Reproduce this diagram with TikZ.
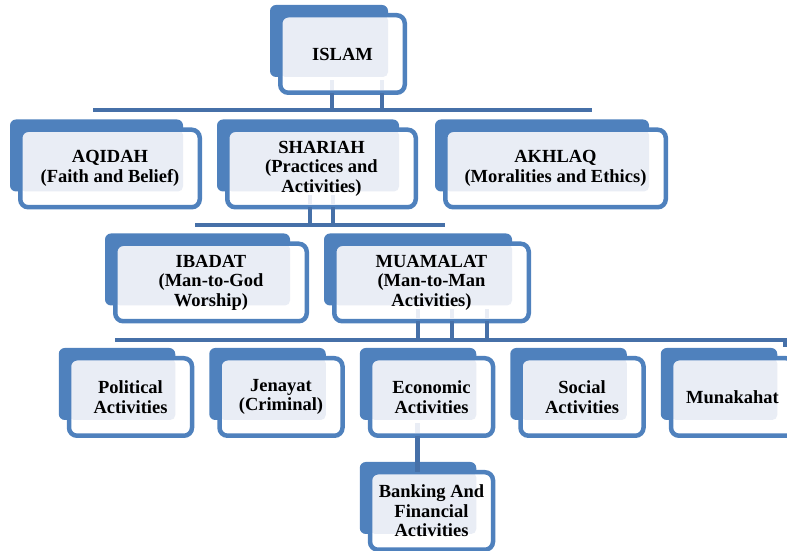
\documentclass[tikz,border=0pt]{standalone}
\usepackage{fontspec}
\setmainfont{Liberation Serif}
\usetikzlibrary{positioning, backgrounds, calc}
\definecolor{boxblue}{RGB}{79,129,189}
\definecolor{linkblue}{RGB}{70,112,168}
\definecolor{paleblue}{RGB}{233,237,245}

\begin{document}
\begin{tikzpicture}[
    x=1pt, y=1pt,
    card/.style={rectangle, rounded corners=8pt, draw=boxblue, line width=4.5pt, fill=white,
        minimum width=123pt, minimum height=77.5pt, inner sep=0pt, outer sep=0pt, align=center,
        font=\fontsize{18.5}{19.5}\selectfont\bfseries,
        path picture={\fill[paleblue, rounded corners=5pt] (path picture bounding box.north west)
            rectangle ($(path picture bounding box.south east)+(-16.75pt,15.75pt)$);}},
    link/.style={linkblue, line width=4.5pt},
    ghost/.style={paleblue, line width=4.5pt}
]
\useasboundingbox (0,0) rectangle (787,551);

% Root
\node[card, minimum width=124.5pt] (islam) at (342.5,497) {ISLAM};

% Three pillars
\node[card, minimum width=179.5pt] (aqidah) at (110,382.5) {AQIDAH\\(Faith and Belief)};
\node[card, minimum width=188.5pt, right=27.5pt of aqidah] (shariah) {SHARIAH\\(Practices and\\Activities)};
\node[card, minimum width=220.5pt, right=29.5pt of shariah] (akhlaq) {AKHLAQ\\(Moralities and Ethics)};

% Shariah branches
\node[card, minimum width=191.5pt] (ibadat) at (211,268.5) {IBADAT\\(Man-to-God\\Worship)};
\node[card, minimum width=194.5pt, right=27.5pt of ibadat] (muamalat) {MUAMALAT\\(Man-to-Man\\Activities)};

% Muamalat branches
\node[card] (political) at (130.5,154) {Political\\Activities};
\node[card, right=27.5pt of political] (jenayat) {Jenayat\\(Criminal)};
\node[card, right=27.5pt of jenayat] (economic) {Economic\\Activities};
\node[card, right=27.5pt of economic] (social) {Social\\Activities};
\node[card, right=27.5pt of social] (munakahat) {Munakahat};
\node[card, below=36.5pt of economic] (banking) {Banking And\\Financial\\Activities};

% Shadow cards
\begin{scope}[on background layer]
\foreach \n in {islam, aqidah, shariah, akhlaq, ibadat, muamalat, political, jenayat, economic, social, munakahat, banking}
    \fill[boxblue, rounded corners=6pt] ($(\n.north west)+(-10.25pt,10.25pt)$) rectangle ($(\n.south east)+(-16.75pt,15.75pt)$);
\end{scope}

% Bars
\coordinate (bar1a) at (93,441);
\coordinate (bar1b) at (592,441);
\coordinate (bar2a) at (195,326);
\coordinate (bar2b) at (445,326);
\coordinate (bar3a) at (115,211);
\coordinate (bar3b) at (785,211);
\coordinate (bar3c) at (785,204);
\draw[link] (bar1a) -- (bar1b);
\draw[link] (bar2a) -- (bar2b);
\draw[link] (bar3a) -- (bar3b) -- (bar3c);

% Links
\foreach \dx in {-10.5, 39.5} {
    \draw[link] ([xshift=\dx pt]islam.south) -- ([xshift=\dx pt]islam.south |- bar1a);
    \draw[ghost] ([xshift=\dx pt, yshift=2.25pt]islam.south) -- ++(0,10);
}
\foreach \dx in {-11.5, 11.5} {
    \draw[link] ([xshift=\dx pt]shariah.south) -- ([xshift=\dx pt]shariah.south |- bar2a);
    \draw[ghost] ([xshift=\dx pt, yshift=2.25pt]shariah.south) -- ++(0,10);
}
\foreach \dx in {-13.5, 20.5, 55.5} {
    \draw[link] ([xshift=\dx pt]muamalat.south) -- ([xshift=\dx pt]muamalat.south |- bar3a);
    \draw[ghost] ([xshift=\dx pt, yshift=2.25pt]muamalat.south) -- ++(0,10);
}
\draw[link] ([xshift=-14pt]economic.south) -- ([xshift=-14pt]economic.south |- banking.north);
\draw[ghost] ([xshift=-14pt, yshift=2.25pt]economic.south) -- ++(0,10);

\end{tikzpicture}
\end{document}
